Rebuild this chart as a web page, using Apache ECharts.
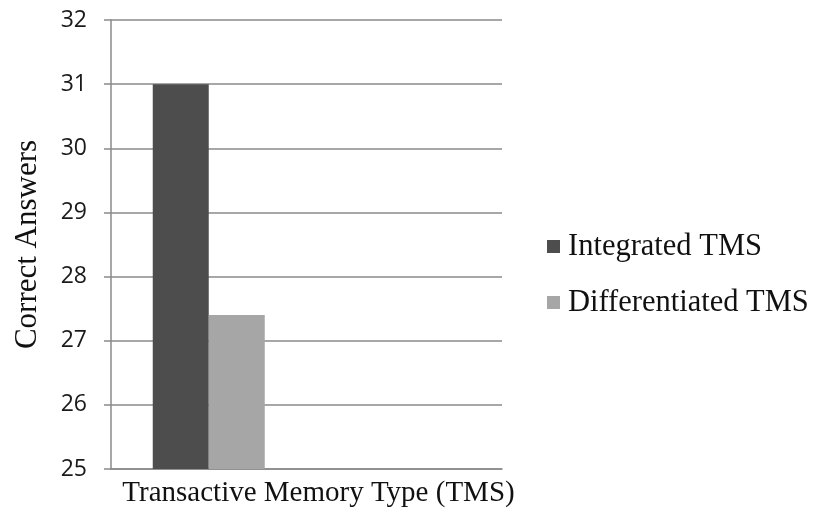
<!DOCTYPE html>
<html>
<head>
<meta charset="utf-8">
<script src="https://cdn.jsdelivr.net/npm/echarts@6/dist/echarts.min.js"></script>
<style>
  html, body { margin: 0; padding: 0; background: #fff; }
  #chart { width: 816px; height: 513px; }
</style>
</head>
<body>
<div id="chart"></div>
<script>
// Single category group; a blank second slot leaves room on the right of the plot
const categories = ['Transactive Memory Type (TMS)'];
const seriesNames = ['Integrated TMS', 'Differentiated TMS'];
const integrated = [31];
const differentiated = [27.4];
const yTicks = [25, 26, 27, 28, 29, 30, 31, 32];

const serif = '"Liberation Serif", "Times New Roman", serif';
const sans = '"Open Sans", "Liberation Sans", sans-serif';
const gridColor = '#8a8a8a';

const chart = echarts.init(document.getElementById('chart'), null, { renderer: 'canvas' });

chart.setOption({
  animation: false,
  backgroundColor: '#ffffff',
  grid: { left: 111, right: 314, top: 20, bottom: 41, containLabel: false },
  legend: {
    orient: 'vertical',
    left: 547,
    top: 231,
    padding: 0,
    icon: 'rect',
    itemWidth: 13,
    itemHeight: 13,
    itemGap: 25,
    data: seriesNames,
    textStyle: { fontFamily: serif, fontSize: 30.5, color: '#111', padding: [0, 0, 0, 3] }
  },
  xAxis: {
    type: 'category',
    data: categories.concat(['']),
    name: categories[0],
    nameLocation: 'middle',
    nameGap: 10,
    nameTextStyle: { fontFamily: serif, fontSize: 29, color: '#111', padding: [0, 0, 0, 24] },
    axisLine: { show: true, lineStyle: { color: gridColor, width: 1.5 } },
    axisTick: { show: false },
    axisLabel: { show: false },
    splitLine: { show: false }
  },
  yAxis: {
    type: 'value',
    min: yTicks[0],
    max: yTicks[yTicks.length - 1],
    interval: 1,
    name: 'Correct Answers',
    nameLocation: 'middle',
    nameRotate: 90,
    nameGap: 68,
    nameTextStyle: { fontFamily: serif, fontSize: 31, color: '#111' },
    axisLine: { show: true, lineStyle: { color: gridColor, width: 1.5 } },
    axisTick: { show: true, length: 7, lineStyle: { color: gridColor, width: 1.5 } },
    axisLabel: { margin: 24, fontFamily: sans, fontSize: 23, color: '#1a1a1a' },
    splitLine: { show: true, lineStyle: { color: gridColor, width: 1.5 } }
  },
  series: [
    {
      name: seriesNames[0],
      type: 'bar',
      data: integrated,
      barWidth: 56,
      barGap: '0%',
      itemStyle: { color: '#4d4d4d' }
    },
    {
      name: seriesNames[1],
      type: 'bar',
      data: differentiated,
      barWidth: 56,
      barGap: '0%',
      itemStyle: { color: '#a6a6a6' }
    }
  ]
});
</script>
</body>
</html>
